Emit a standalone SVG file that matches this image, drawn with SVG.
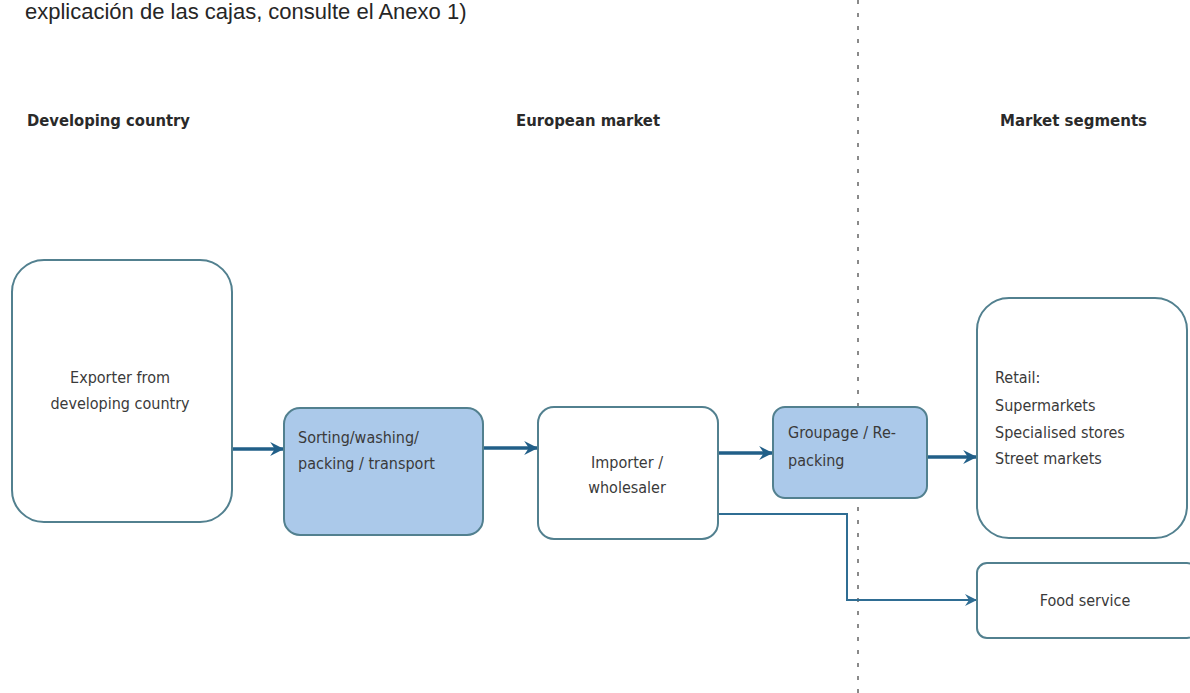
<svg xmlns="http://www.w3.org/2000/svg" width="1190" height="693" viewBox="0 0 1190 693">
<style>
.box{fill:#ffffff;stroke:#52808f;stroke-width:2}
.blue{fill:#abc9ea;stroke:#52808f;stroke-width:2}
.t{font-family:"DejaVu Sans Condensed","DejaVu Sans",sans-serif;font-size:16px;fill:#3a3a3a}
.h{font-family:"DejaVu Sans Condensed","DejaVu Sans",sans-serif;font-size:16px;font-weight:bold;fill:#2a2a2a}
.main{stroke:#215f88;stroke-width:3.5;fill:none}
.thin{stroke:#2f6d93;stroke-width:2;fill:none}
</style>
<defs>
<marker id="arr" viewBox="0 0 12 12" refX="11" refY="6" markerWidth="4" markerHeight="4" orient="auto" markerUnits="strokeWidth">
<path d="M0,0 L12,6 L0,12 L4,6 Z" fill="#215f88"/>
</marker>
<marker id="arr2" viewBox="0 0 12 12" refX="11" refY="6" markerWidth="6" markerHeight="6" orient="auto" markerUnits="strokeWidth">
<path d="M0,0 L12,6 L0,12 L4,6 Z" fill="#2f6d93"/>
</marker>
</defs>
<rect width="1190" height="693" fill="#ffffff"/>
<text x="25" y="19" font-family="Liberation Sans, Arial, sans-serif" font-size="22" fill="#262626">explicación de las cajas, consulte el Anexo 1)</text>
<line x1="858" y1="0" x2="858" y2="693" stroke="#8a8a8a" stroke-width="2" stroke-dasharray="4 9"/>
<g id="headers">
<text class="h" x="27" y="126" textLength="163" lengthAdjust="spacingAndGlyphs">Developing country</text>
<text class="h" x="516" y="126" textLength="144" lengthAdjust="spacingAndGlyphs">European market</text>
<text class="h" x="1000" y="126" textLength="147" lengthAdjust="spacingAndGlyphs">Market segments</text>
</g>
<g id="connectors">
<line class="main" x1="232" y1="449" x2="283" y2="449" marker-end="url(#arr)"/>
<line class="main" x1="483" y1="448" x2="537" y2="448" marker-end="url(#arr)"/>
<line class="main" x1="718" y1="453" x2="772" y2="453" marker-end="url(#arr)"/>
<line class="main" x1="927" y1="457" x2="976" y2="457" marker-end="url(#arr)"/>
<polyline class="thin" points="718,514 847,514 847,600 976,600" marker-end="url(#arr2)"/>
</g>
<g id="exporter">
<rect class="box" x="12" y="260" width="220" height="262" rx="32"/>
<text class="t" x="120" y="383" text-anchor="middle">Exporter from</text>
<text class="t" x="120" y="409" text-anchor="middle">developing country</text>
</g>
<g id="sorting">
<rect class="blue" x="284" y="408" width="199" height="127" rx="16"/>
<text class="t" x="298" y="443">Sorting/washing/</text>
<text class="t" x="298" y="469">packing / transport</text>
</g>
<g id="importer">
<rect class="box" x="538" y="407" width="180" height="132" rx="16"/>
<text class="t" x="627" y="468" text-anchor="middle">Importer /</text>
<text class="t" x="627" y="493" text-anchor="middle">wholesaler</text>
</g>
<g id="groupage">
<rect class="blue" x="773" y="407" width="154" height="91" rx="12"/>
<text class="t" x="788" y="438">Groupage / Re-</text>
<text class="t" x="788" y="466">packing</text>
</g>
<g id="retail">
<rect class="box" x="977" y="298" width="210" height="240" rx="32"/>
<text class="t" x="995" y="383">Retail:</text>
<text class="t" x="995" y="411">Supermarkets</text>
<text class="t" x="995" y="438">Specialised stores</text>
<text class="t" x="995" y="464">Street markets</text>
</g>
<g id="foodservice">
<rect class="box" x="977" y="563" width="220" height="75" rx="10"/>
<text class="t" x="1085" y="606" text-anchor="middle">Food service</text>
</g>
</svg>
